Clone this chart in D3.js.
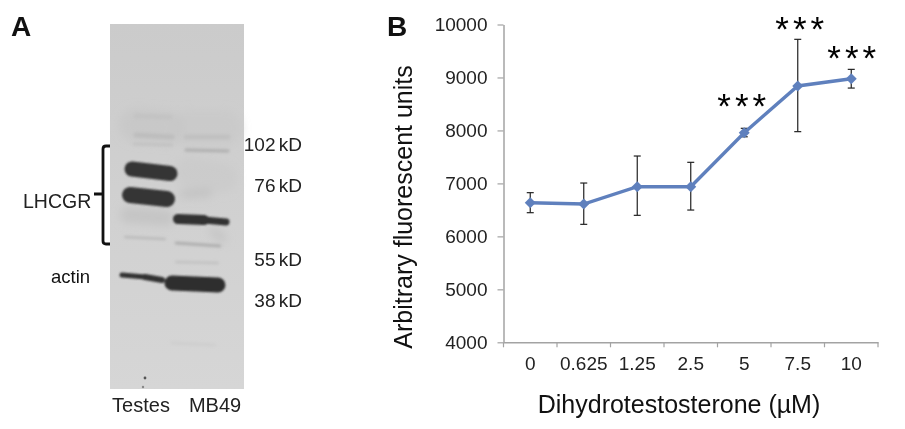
<!DOCTYPE html>
<html>
<head>
<meta charset="utf-8">
<script src="https://cdn.jsdelivr.net/npm/d3@7"></script>
<style>
html, body { margin: 0; padding: 0; background: #fff; }
svg { display: block; filter: blur(0.3px); }
text { font-family: "Liberation Sans", Arial, sans-serif; }
</style>
</head>
<body>
<svg id="drawing-area"></svg>
<script>
var width = 905;
var height = 429;

// panel B values
var doses = ["0", "0.625", "1.25", "2.5", "5", "7.5", "10"];
var meanValues = [6635, 6610, 6937, 6937, 7957, 8840, 8976];
var errorTop = [6825, 7007, 7517, 7398, 8040, 9720, 9153];
var errorBottom = [6447, 6227, 6397, 6497, 7880, 7977, 8800];
var yTicks = [4000, 5000, 6000, 7000, 8000, 9000, 10000];
var starDoses = ["5", "7.5", "10"];

// panel A labels
var ladderLabels = ["102 kD", "76 kD", "55 kD", "38 kD"];
var ladderY = [144, 185, 259, 300];
var laneLabels = ["Testes", "MB49"];
var laneX = [141, 215];

// blot bands: [x0, y0, x1, y1, thickness, grey, opacity]
var strongBands = [
  [132, 169, 170, 173.5, 15, "#343434", 1],
  [130, 195, 167, 199, 16, "#343434", 1],
  [178, 219, 204, 220, 10, "#303030", 1],
  [204, 220, 226, 222, 7, "#303030", 1],
  [122, 275, 145, 277, 5, "#333", 1],
  [145, 277, 162, 280, 6, "#333", 1],
  [172, 283, 218, 285, 15, "#2e2e2e", 1]
];
var hazeBands = [
  [136, 125, 168, 128, 34, "#c4c4c4", 0.6],
  [190, 128, 224, 128, 36, "#c6c6c6", 0.55],
  [128, 215, 166, 218, 16, "#c2c2c2", 0.8],
  [190, 172, 222, 178, 30, "#c8c8c8", 0.55],
  [184, 194, 208, 193, 8, "#bcbcbc", 0.7],
  [214, 232, 222, 238, 10, "#bebebe", 0.6]
];
var faintBands = [
  [136, 116, 170, 117, 5, "#c0c0c0", 0.6],
  [136, 135, 172, 137, 5, "#b8b8b8", 0.7],
  [186, 137, 228, 137, 5, "#bcbcbc", 0.7],
  [134, 144, 172, 145, 2.5, "#bababa", 0.7],
  [186, 150, 228, 151, 3, "#a8a8a8", 0.85],
  [125, 237, 165, 239, 2, "#acacac", 0.8],
  [176, 243, 220, 246, 2.5, "#a0a0a0", 0.85],
  [176, 262, 218, 263, 2, "#b8b8b8", 0.8],
  [172, 343, 215, 345, 3, "#cacaca", 0.6]
];

var svg = d3.select("#drawing-area")
    .attr("width", width)
    .attr("height", height);

var defs = svg.append("defs");
var gradient = defs.append("linearGradient")
    .attr("id", "film")
    .attr("x1", 0).attr("y1", 0).attr("x2", 0).attr("y2", 1);
gradient.append("stop").attr("offset", "0%").attr("stop-color", "#cbcbcb");
gradient.append("stop").attr("offset", "45%").attr("stop-color", "#d0d0d0");
gradient.append("stop").attr("offset", "100%").attr("stop-color", "#d6d6d6");

defs.append("filter").attr("id", "soft").attr("x", "-20%").attr("y", "-100%")
    .attr("width", "140%").attr("height", "300%")
    .append("feGaussianBlur").attr("stdDeviation", 0.9);
defs.append("filter").attr("id", "hazy").attr("x", "-20%").attr("y", "-200%")
    .attr("width", "140%").attr("height", "500%")
    .append("feGaussianBlur").attr("stdDeviation", 1.4);
defs.append("filter").attr("id", "smear").attr("x", "-30%").attr("y", "-100%")
    .attr("width", "160%").attr("height", "300%")
    .append("feGaussianBlur").attr("stdDeviation", 4);

// Panel A
svg.append("text").text("A")
    .attr("x", 11).attr("y", 36)
    .style("font-size", "28px").style("font-weight", "bold").attr("fill", "#111");

var blot = svg.append("g");
blot.append("rect")
    .attr("x", 110).attr("y", 24)
    .attr("width", 134).attr("height", 365)
    .attr("fill", "url(#film)");

function drawBands(data, filter) {
  blot.append("g").attr("filter", filter)
    .selectAll("line")
    .data(data)
    .enter()
    .append("line")
    .attr("x1", function(d){ return d[0]; })
    .attr("y1", function(d){ return d[1]; })
    .attr("x2", function(d){ return d[2]; })
    .attr("y2", function(d){ return d[3]; })
    .attr("stroke-width", function(d){ return d[4]; })
    .attr("stroke", function(d){ return d[5]; })
    .attr("stroke-opacity", function(d){ return d[6]; })
    .attr("stroke-linecap", "round");
}
drawBands(hazeBands, "url(#smear)");
drawBands(faintBands, "url(#hazy)");
drawBands(strongBands, "url(#soft)");

// specks at the bottom of the film
blot.append("circle").attr("cx", 145).attr("cy", 378).attr("r", 1.4).attr("fill", "#555");
blot.append("circle").attr("cx", 143).attr("cy", 387).attr("r", 1.2).attr("fill", "#888");

// bracket
svg.append("path")
    .attr("d", "M110,146H106Q103,146 103,149V241Q103,244 106,244H110M103,194H94")
    .attr("fill", "none")
    .attr("stroke", "#111")
    .attr("stroke-width", 2.8);

svg.append("text").text("LHCGR")
    .attr("x", 23).attr("y", 208)
    .style("font-size", "19.5px").attr("fill", "#222");
svg.append("text").text("actin")
    .attr("x", 51).attr("y", 283)
    .style("font-size", "18.5px").attr("fill", "#111");

svg.selectAll(".ladder")
    .data(ladderLabels)
    .enter()
    .append("text")
    .attr("class", "ladder")
    .text(function(d){ return d; })
    .attr("x", 302)
    .attr("y", function(d, i){ return ladderY[i]; })
    .attr("dy", "0.35em")
    .style("text-anchor", "end")
    .style("font-size", "19px")
    .style("word-spacing", "-2px")
    .attr("fill", "#222");

svg.selectAll(".lane")
    .data(laneLabels)
    .enter()
    .append("text")
    .attr("class", "lane")
    .text(function(d){ return d; })
    .attr("x", function(d, i){ return laneX[i]; })
    .attr("y", 412)
    .style("text-anchor", "middle")
    .style("font-size", "20px")
    .attr("fill", "#222");

// Panel B
svg.append("text").text("B")
    .attr("x", 387).attr("y", 36)
    .style("font-size", "28px").style("font-weight", "bold").attr("fill", "#111");

var x = d3.scaleBand().domain(doses).range([503.5, 878]);
var y = d3.scaleLinear().domain([4000, 10000]).range([342.3, 24.5]);

var gx = svg.append("g")
    .attr("transform", "translate(0," + y(4000) + ")")
    .call(d3.axisBottom(x).tickSize(0).tickPadding(14));
var gy = svg.append("g")
    .attr("transform", "translate(" + x.range()[0] + ",0)")
    .call(d3.axisLeft(y).tickValues(yTicks).tickSize(6).tickSizeOuter(0).tickPadding(10).tickFormat(d3.format("d")));

[gx, gy].forEach(function(g){
  g.select(".domain").attr("stroke", "#a3a3a3").attr("stroke-width", 1.5);
  g.selectAll("line").attr("stroke", "#a3a3a3").attr("stroke-width", 1.2);
  g.selectAll("text").style("font-size", "19px").attr("fill", "#222");
  g.attr("font-family", null);
});

// x ticks sit on the band edges
var edges = doses.map(function(d){ return x(d); }).concat([x.range()[1]]);
svg.append("g").selectAll("line")
    .data(edges)
    .enter()
    .append("line")
    .attr("x1", function(d){ return d; })
    .attr("x2", function(d){ return d; })
    .attr("y1", y(4000))
    .attr("y2", y(4000) + 5)
    .attr("stroke", "#a3a3a3")
    .attr("stroke-width", 1.2);

function cx(i) { return x(doses[i]) + x.bandwidth() / 2; }

// error bars
var bars = svg.append("g").selectAll("g")
    .data(doses)
    .enter()
    .append("g")
    .attr("stroke", "#222")
    .attr("stroke-width", 1.2);
bars.append("line")
    .attr("x1", function(d, i){ return cx(i); })
    .attr("x2", function(d, i){ return cx(i); })
    .attr("y1", function(d, i){ return y(errorTop[i]); })
    .attr("y2", function(d, i){ return y(errorBottom[i]); });
[errorTop, errorBottom].forEach(function(vals){
  bars.append("line")
    .attr("x1", function(d, i){ return cx(i) - 3.5; })
    .attr("x2", function(d, i){ return cx(i) + 3.5; })
    .attr("y1", function(d, i){ return y(vals[i]); })
    .attr("y2", function(d, i){ return y(vals[i]); });
});

var line = d3.line()
    .x(function(d, i){ return cx(i); })
    .y(function(d){ return y(d); });
svg.append("path")
    .datum(meanValues)
    .attr("d", line)
    .attr("fill", "none")
    .attr("stroke", "#5f80bd")
    .attr("stroke-width", 3.4);

svg.append("g").selectAll("path")
    .data(meanValues)
    .enter()
    .append("path")
    .attr("d", d3.symbol().type(d3.symbolSquare).size(60))
    .attr("transform", function(d, i){ return "translate(" + cx(i) + "," + y(d) + ") rotate(45)"; })
    .attr("fill", "#5f80bd");

// significance stars, nudged off the error bars as in the figure
var starDx = {"5": -0.5, "7.5": 4, "10": 2.5};
var starDy = {"5": -10, "7.5": 2, "10": 1};
svg.selectAll(".stars")
    .data(starDoses)
    .enter()
    .append("text")
    .attr("class", "stars")
    .text("***")
    .attr("x", function(d){ return x(d) + x.bandwidth() / 2 + starDx[d]; })
    .attr("y", function(d){ return y(errorTop[doses.indexOf(d)]) + starDy[d]; })
    .style("text-anchor", "middle")
    .style("font-size", "35px")
    .style("letter-spacing", "4px")
    .attr("fill", "#000");

svg.append("text").text("Arbitrary fluorescent units")
    .attr("transform", "translate(412,207) rotate(-90)")
    .style("text-anchor", "middle")
    .style("font-size", "25px")
    .attr("fill", "#111");
svg.append("text").text("Dihydrotestosterone (\u00b5M)")
    .attr("x", 679).attr("y", 413)
    .style("text-anchor", "middle")
    .style("font-size", "25px")
    .attr("fill", "#111");
</script>
</body>
</html>
